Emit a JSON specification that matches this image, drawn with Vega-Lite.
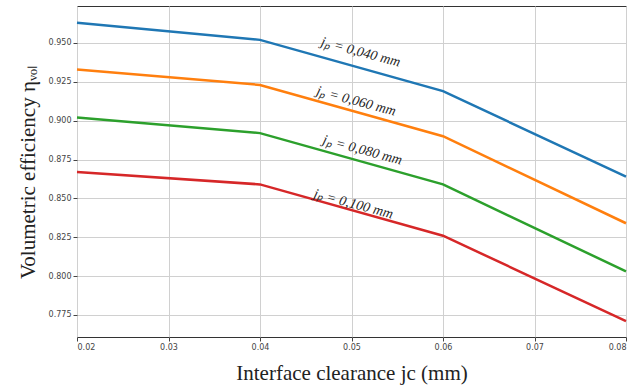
{
  "$schema": "https://vega.github.io/schema/vega-lite/v6.json",
  "width": 549,
  "height": 331,
  "autosize": "none",
  "padding": {"left": 77, "top": 6, "right": 17, "bottom": 51},
  "config": {
    "view": {"stroke": "#333", "strokeWidth": 1},
    "axis": {
      "labelFont": "DejaVu Sans", "labelFontSize": 8, "labelColor": "#444",
      "gridColor": "#d0d0d0", "gridWidth": 1, "domain": false,
      "tickColor": "#444", "tickSize": 4,
      "titleFont": "Liberation Serif", "titleFontSize": 21, "titleFontWeight": "normal", "titleColor": "#222"
    }
  },
  "datasets": {
    "lines": [
      {"jc": 0.02, "eff": 0.963, "jp": "0,040"},
      {"jc": 0.04, "eff": 0.952, "jp": "0,040"},
      {"jc": 0.06, "eff": 0.919, "jp": "0,040"},
      {"jc": 0.08, "eff": 0.864, "jp": "0,040"},
      {"jc": 0.02, "eff": 0.933, "jp": "0,060"},
      {"jc": 0.04, "eff": 0.923, "jp": "0,060"},
      {"jc": 0.06, "eff": 0.890, "jp": "0,060"},
      {"jc": 0.08, "eff": 0.834, "jp": "0,060"},
      {"jc": 0.02, "eff": 0.902, "jp": "0,080"},
      {"jc": 0.04, "eff": 0.892, "jp": "0,080"},
      {"jc": 0.06, "eff": 0.859, "jp": "0,080"},
      {"jc": 0.08, "eff": 0.803, "jp": "0,080"},
      {"jc": 0.02, "eff": 0.867, "jp": "0,100"},
      {"jc": 0.04, "eff": 0.859, "jp": "0,100"},
      {"jc": 0.06, "eff": 0.826, "jp": "0,100"},
      {"jc": 0.08, "eff": 0.771, "jp": "0,100"}
    ],
    "labels": [
      {"jc": 0.0510, "eff": 0.9440, "label": "jₚ = 0,040 mm"},
      {"jc": 0.0505, "eff": 0.9125, "label": "jₚ = 0,060 mm"},
      {"jc": 0.0512, "eff": 0.8810, "label": "jₚ = 0,080 mm"},
      {"jc": 0.0502, "eff": 0.8463, "label": "jₚ = 0,100 mm"}
    ]
  },
  "layer": [
    {
      "data": {"name": "lines"},
      "mark": {"type": "line", "strokeWidth": 2.5},
      "encoding": {
        "x": {"field": "jc", "type": "quantitative",
              "scale": {"domain": [0.02, 0.08], "nice": false, "zero": false},
              "axis": {"values": [0.02, 0.03, 0.04, 0.05, 0.06, 0.07, 0.08], "format": ".2f",
                       "title": "Interface clearance jc (mm)", "titlePadding": 11}},
        "y": {"field": "eff", "type": "quantitative",
              "scale": {"domain": [0.7608, 0.9738], "nice": false, "zero": false},
              "axis": {"values": [0.775, 0.8, 0.825, 0.85, 0.875, 0.9, 0.925, 0.95], "format": ".3f",
                       "title": "Volumetric efficiency ηᵥₒₗ", "titlePadding": 10}},
        "color": {"field": "jp", "type": "nominal",
                  "scale": {"domain": ["0,040", "0,060", "0,080", "0,100"],
                            "range": ["#1f77b4", "#ff7f0e", "#2ca02c", "#d62728"]},
                  "legend": null}
      }
    },
    {
      "data": {"name": "labels"},
      "mark": {"type": "text", "angle": 15, "font": "Liberation Serif", "fontStyle": "italic", "fontSize": 14, "color": "#222", "align": "center", "baseline": "middle"},
      "encoding": {
        "x": {"field": "jc", "type": "quantitative"},
        "y": {"field": "eff", "type": "quantitative"},
        "text": {"field": "label"}
      }
    }
  ]
}
